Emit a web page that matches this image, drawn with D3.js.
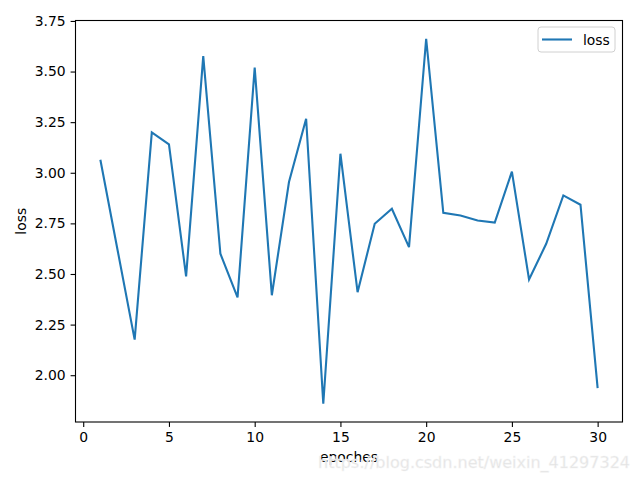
<!DOCTYPE html>
<html lang="en">
<head>
<meta charset="UTF-8">
<title>loss</title>
<script src="https://d3js.org/d3.v7.min.js"></script>
<style>
  body { margin: 0; background: #fff; }
  text { font-family: "DejaVu Sans", sans-serif; fill: #000; }
</style>
</head>
<body>
<svg width="640" height="480"></svg>
<script>
// epoch numbers and loss
const epochs = d3.range(1, 31);
const loss = [3.064, 2.62, 2.176, 3.199, 3.140, 2.488, 3.576, 2.600, 2.384, 3.519,
              2.395, 2.954, 3.267, 1.859, 3.094, 2.410, 2.748, 2.822, 2.633, 3.662,
              2.802, 2.789, 2.764, 2.754, 3.006, 2.473, 2.649, 2.888, 2.842, 1.936];
const xTicks = [0, 5, 10, 15, 20, 25, 30];
const yTicks = [2.00, 2.25, 2.50, 2.75, 3.00, 3.25, 3.50, 3.75];

const plotLeft = 75.5, plotRight = 622.5, plotTop = 20.5, plotBottom = 422;
const svg = d3.select("svg");

// matplotlib style 5% margins
const xPad = (d3.max(epochs) - d3.min(epochs)) * 0.05;
const yPad = (d3.max(loss) - d3.min(loss)) * 0.05;
const x = d3.scaleLinear().domain([d3.min(epochs) - xPad, d3.max(epochs) + xPad]).range([plotLeft, plotRight]);
const y = d3.scaleLinear().domain([d3.min(loss) - yPad, d3.max(loss) + yPad]).range([plotBottom, plotTop]);

const xAxis = svg.append("g")
    .attr("transform", `translate(0,${plotBottom})`)
    .call(d3.axisBottom(x).tickValues(xTicks).tickSize(4.9).tickPadding(4.9).tickFormat(d3.format("d")));
const yAxis = svg.append("g")
    .attr("transform", `translate(${plotLeft},0)`)
    .call(d3.axisLeft(y).tickValues(yTicks).tickSize(4.9).tickPadding(4.9).tickFormat(d3.format(".2f")));

[xAxis, yAxis].forEach(a => {
  a.select(".domain").remove();
  a.selectAll(".tick line").attr("stroke", "#000").attr("stroke-width", 1.1);
  a.selectAll(".tick text").style("font-size", "13.9px").attr("fill", "#000");
});

// frame
svg.append("rect")
    .attr("x", plotLeft).attr("y", plotTop)
    .attr("width", plotRight - plotLeft).attr("height", plotBottom - plotTop)
    .attr("fill", "none").attr("stroke", "#000").attr("stroke-width", 1.1);

const line = d3.line().x((d, i) => x(epochs[i])).y(d => y(d));
svg.append("path")
    .datum(loss)
    .attr("d", line)
    .attr("fill", "none")
    .attr("stroke", "#1f77b4")
    .attr("stroke-width", 2.1)
    .attr("stroke-linejoin", "miter");

// axis labels
svg.append("text")
    .attr("x", (plotLeft + plotRight) / 2).attr("y", 462)
    .attr("text-anchor", "middle")
    .style("font-size", "13.9px")
    .text("epoches");
svg.append("text")
    .attr("transform", `translate(26,${(plotTop + plotBottom) / 2}) rotate(-90)`)
    .attr("text-anchor", "middle")
    .style("font-size", "13.9px")
    .text("loss");

// legend
const legend = svg.append("g").attr("transform", "translate(538,27)");
legend.append("rect")
    .attr("width", 77).attr("height", 25).attr("rx", 3)
    .attr("fill", "#fff").attr("fill-opacity", 0.8)
    .attr("stroke", "#d0d0d0").attr("stroke-width", 1);
legend.append("line")
    .attr("x1", 4).attr("x2", 34).attr("y1", 12.5).attr("y2", 12.5)
    .attr("stroke", "#1f77b4").attr("stroke-width", 2.1);
legend.append("text")
    .attr("x", 45).attr("y", 17.5)
    .style("font-size", "13.9px")
    .text("loss");

// watermark
svg.append("text")
    .attr("x", 630).attr("y", 468)
    .attr("text-anchor", "end")
    .style("font-size", "16px")
    .style("fill", "#e2e2e2")
    .attr("stroke", "#f4f4f4").attr("stroke-width", 0.5)
    .text("https://blog.csdn.net/weixin_41297324");
</script>
</body>
</html>
